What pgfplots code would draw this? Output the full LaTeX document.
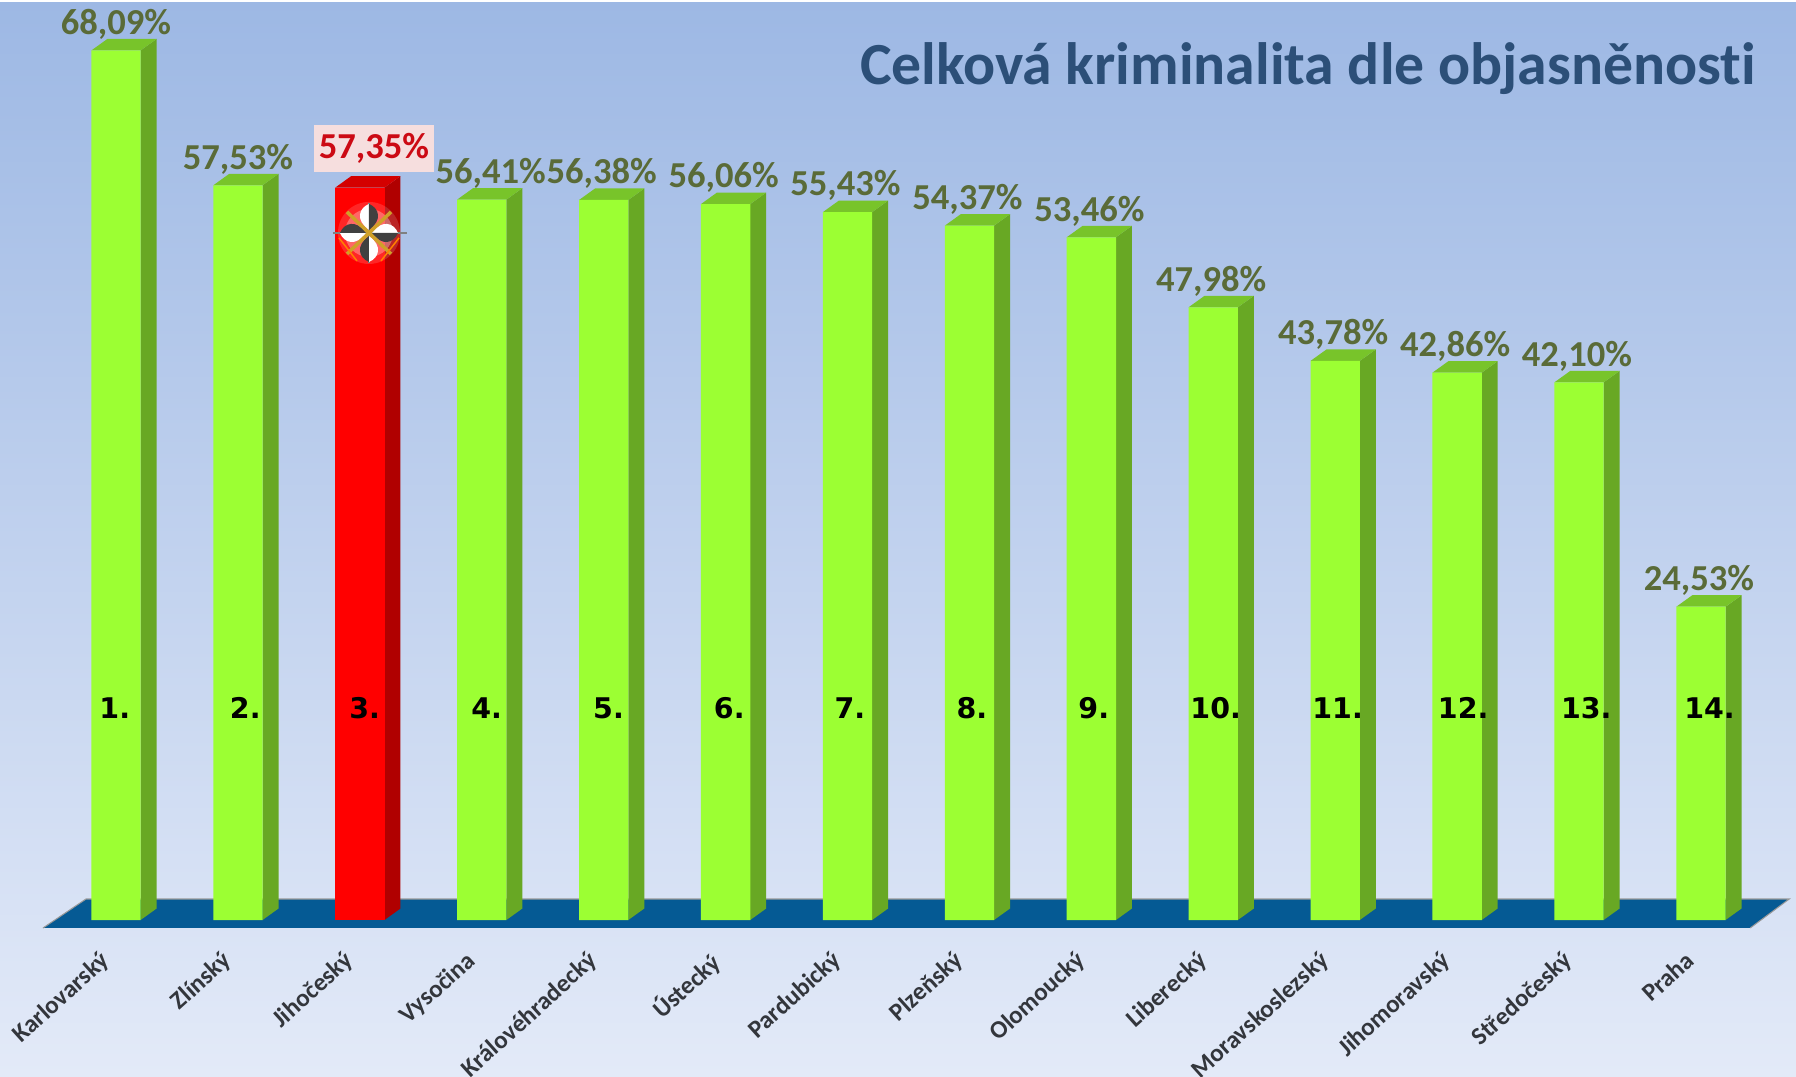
\documentclass[border=0pt]{standalone}
\usepackage{fontspec}
\setmainfont[Ligatures=NoCommon]{Carlito}
\newfontfamily\rankfont{DejaVu Sans}
\usepackage{pgfplots}
\usepackage{pgfplotstable}
\pgfplotsset{compat=1.18}
\usetikzlibrary{calc}

\definecolor{bgtop}{HTML}{9DB8E4}
\definecolor{bgbot}{HTML}{E3EAF8}
\definecolor{floorblue}{HTML}{055A94}
\definecolor{gface}{HTML}{9CFF33}
\definecolor{gside}{HTML}{68A824}
\definecolor{gtop}{HTML}{78C42A}
\definecolor{rface}{HTML}{FF0000}
\definecolor{rside}{HTML}{B00000}
\definecolor{rtop}{HTML}{D40000}
\definecolor{lbl}{HTML}{5A6B38}
\definecolor{titleblue}{HTML}{2C4F78}
\definecolor{redlbl}{HTML}{CC0A14}
\definecolor{redbox}{HTML}{F6DEDE}
\definecolor{tickcol}{HTML}{33363C}
\definecolor{gold}{HTML}{CFA028}

% x = category, v = percentage
\pgfplotstableread{
x  v
0  68.09
1  57.53
3  56.41
4  56.38
5  56.06
6  55.43
7  54.37
8  53.46
9  47.98
10 43.78
11 42.86
12 42.10
13 24.53
}\greenbars
\pgfplotstableread{
x v
2 57.35
}\redbar
% rank numbers, x slightly off centre as in the original
\pgfplotstableread{
x     y    r
-0.01 16.6 1.
1.06  16.6 2.
2.04  16.6 3.
3.04  16.6 4.
4.04  16.6 5.
5.03  16.6 6.
6.02  16.6 7.
7.02  16.6 8.
8.02  16.6 9.
9.02  16.6 10.
10.02 16.6 11.
11.05 16.6 12.
12.06 16.6 13.
13.07 16.6 14.
}\ranks

\pgfplotsset{
  valuelabel/.style={
    nodes near coords={\pgfmathprintnumber[assume math mode=true,fixed,fixed zerofill,precision=2,use comma]{\pgfplotspointmeta}\%},
    every node near coord/.append style={font=\fontsize{10.4}{12}\bfseries,inner sep=0pt,yshift=3pt},
  },
}

% depth faces of one bar: #1 x, #2 value, #3 side colour, #4 top colour
\newcommand{\depthfaces}[4]{%
  \pgfmathsetmacro{\xa}{#1+0.202}%
  \pgfmathsetmacro{\xb}{#1+0.202+0.131}%
  \pgfmathsetmacro{\xc}{#1-0.202}%
  \pgfmathsetmacro{\xd}{#1-0.202+0.131}%
  \pgfmathsetmacro{\yt}{#2+0.9}%
  \edef\temp{\noexpand\addplot[fill=#3,draw=none,forget plot] coordinates {(\xa,0) (\xb,0.9) (\xb,\yt) (\xa,#2)};
    \noexpand\addplot[fill=#4,draw=none,forget plot] coordinates {(\xc,#2) (\xd,\yt) (\xb,\yt) (\xa,#2)};}%
  \temp
}

\begin{document}
\begin{tikzpicture}
\path[use as bounding box] (0,0) rectangle (17.96,10.76);
\begin{axis}[
    at={(0,0)}, anchor=south west,
    scale only axis,
    width=17.96cm, height=10.76cm,
    xmin=-0.9516, xmax=13.78,
    ymin=-12.216, ymax=72.04,
    clip=false,
    axis background/.style={top color=bgtop,bottom color=bgbot,draw=none},
    axis line style={draw=none},
    tick style={draw=none},
    ymajorticks=false,
    xtick={0,...,13},
    xticklabels={Karlovarský,Zlínský,Jihočeský,Vysočina,Královéhradecký,Ústecký,Pardubický,Plzeňský,Olomoucký,Liberecký,Moravskoslezský,Jihomoravský,Středočeský,Praha},
    xticklabel style={xshift=-1.7mm,yshift=12.7mm,rotate=42,anchor=north east,font=\fontsize{7.1}{9}\bfseries,text=tickcol,inner sep=0pt},
]
% floor
\addplot[fill=floorblue,draw=black!40,line width=0.3pt,forget plot] coordinates {(-0.599,-0.626) (-0.246,1.644) (13.724,1.644) (13.404,-0.626)};

\depthfaces{0}{68.09}{gside}{gtop}
\depthfaces{1}{57.53}{gside}{gtop}
\depthfaces{2}{57.35}{rside}{rtop}
\depthfaces{3}{56.41}{gside}{gtop}
\depthfaces{4}{56.38}{gside}{gtop}
\depthfaces{5}{56.06}{gside}{gtop}
\depthfaces{6}{55.43}{gside}{gtop}
\depthfaces{7}{54.37}{gside}{gtop}
\depthfaces{8}{53.46}{gside}{gtop}
\depthfaces{9}{47.98}{gside}{gtop}
\depthfaces{10}{43.78}{gside}{gtop}
\depthfaces{11}{42.86}{gside}{gtop}
\depthfaces{12}{42.10}{gside}{gtop}
\depthfaces{13}{24.53}{gside}{gtop}

\addplot[ybar,bar shift=0pt,bar width=4.93mm,fill=gface,draw=none,valuelabel,
  every node near coord/.append style={text=lbl},
  coordinate style/.condition={x==3}{xshift=0.9mm},
  coordinate style/.condition={x>3}{xshift=-0.2mm}] table[x=x,y=v]{\greenbars};
\addplot[ybar,bar shift=0pt,bar width=4.93mm,fill=rface,draw=none,valuelabel,
  every node near coord/.append style={text=redlbl,fill=redbox,inner sep=0pt,minimum width=1.2cm,minimum height=0.47cm,xshift=1.4mm,yshift=1.25pt}] table[x=x,y=v]{\redbar};

% rank numbers inside the bars
\addplot[draw=none,no marks,point meta=explicit symbolic,
  nodes near coords,
  every node near coord/.append style={font=\rankfont\fontsize{8.1}{10}\bfseries,text=black,anchor=center,inner sep=0pt}]
  table[x=x,y=y,meta=r]{\ranks};

% emblem on the red bar
\fill[white,opacity=0.15,shift={(axis cs:2.075,53.8)}] (0cm,0cm) circle (0.31cm);
\fill[white,opacity=0.3,shift={(axis cs:2.075,53.8)}] (0cm,0cm) circle (0.24cm);
\draw[black!50,line width=0.15mm,shift={(axis cs:2.075,53.8)}] (-0.36cm,0cm) -- (0.38cm,0cm) (0cm,-0.3cm) -- (0cm,0.3cm);
\pgfplotsinvokeforeach{0,90,180,270}{
  \fill[white,shift={(axis cs:2.075,53.8)},rotate=#1] (0cm,0.03cm) .. controls (-0.14cm,0.13cm) and (-0.1cm,0.25cm) .. (0cm,0.29cm) -- cycle;
  \fill[black!75,shift={(axis cs:2.075,53.8)},rotate=#1] (0cm,0.03cm) .. controls (0.14cm,0.13cm) and (0.1cm,0.25cm) .. (0cm,0.29cm) -- cycle;
}
\draw[gold,line width=0.35mm,shift={(axis cs:2.075,53.8)}] (-0.22cm,0.21cm) -- (0.22cm,-0.21cm) (0.22cm,0.21cm) -- (-0.22cm,-0.21cm);
\draw[orange,line width=0.15mm,shift={(axis cs:2.075,53.8)}] (-0.3cm,-0.05cm) -- (-0.12cm,-0.28cm) (0.3cm,-0.05cm) -- (0.12cm,-0.28cm);

% title
\node[anchor=east,inner sep=0pt,font=\fontsize{17}{20}\bfseries,text=titleblue] at (rel axis cs:0.978,0.936) {Celková kriminalita dle objasněnosti};
\end{axis}
\fill[white] (0,10.74) rectangle (17.96,10.76);
\end{tikzpicture}
\end{document}
